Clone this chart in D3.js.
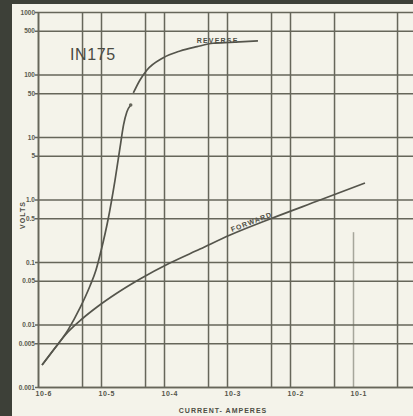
<!DOCTYPE html>
<html>
<head>
<meta charset="utf-8">
<script src="https://cdn.jsdelivr.net/npm/d3@7"></script>
<style>
  html, body { margin: 0; padding: 0; background: #3d4038; }
  svg { display: block; }
  text { font-family: "Liberation Sans", Arial, sans-serif; fill: #4a4a40; }
</style>
</head>
<body>
<svg id="chart" width="413" height="416"></svg>
<script>
// ---- data ----
const yTickValues = [1000, 500, 100, 50, 10, 5, 1, 0.5, 0.1, 0.05, 0.01, 0.005, 0.001];
const yTickLabels = ["1000", "500", "100", "50", "10", "5", "1.0", "0.5", "0.1", "0.05", "0.01", "0.005", "0.001"];
const xDecades = [1e-6, 1e-5, 1e-4, 1e-3, 1e-2, 1e-1];
const xTickLabels = ["10-6", "10-5", "10-4", "10-3", "10-2", "10-1"];
const xMinor = [5e-6, 5e-5, 5e-4, 5e-3, 5e-2, 5e-1];

// forward characteristic (amperes, volts)
const forwardCurrent = [1.16e-6, 1.86e-6, 2.99e-6, 4.99e-6, 8.65e-6, 1.8e-5, 4.16e-5, 1.24e-4, 3.73e-4, 1.12e-3, 4.82e-3, 0.030, 0.155];
const forwardVolts   = [0.00225, 0.00421, 0.00759, 0.01225, 0.01905, 0.0319, 0.0535, 0.0964, 0.161, 0.270, 0.488, 0.98, 1.84];

// reverse characteristic (amperes, volts); null = break in the drawn line
const reverseCurrent = [1.16e-6, 1.86e-6, 3.0e-6, 4.64e-6, 6.68e-6, 8.33e-6, 1.0e-5, 1.29e-5, 1.67e-5, 2.0e-5, 2.28e-5, 2.57e-5, 2.96e-5,
                        3.1e-5,
                        3.26e-5, 4.16e-5, 5.37e-5, 9.6e-5, 1.8e-4, 3.34e-4, 6.0e-4, 1.12e-3, 3.1e-3];
const reverseVolts   = [0.00225, 0.00421, 0.0082, 0.01837, 0.0413, 0.0745, 0.150, 0.470, 2.05, 6.67, 15.6, 25.1, 32.5,
                        null,
                        50.6, 81.7, 118, 184, 238, 279, 316, 327, 344];

const title = "IN175";
const xTitle = "CURRENT- AMPERES";
const yTitle = "VOLTS";

// ---- drawing ----
const svg = d3.select("#chart");
const W = 413, H = 416;

// paper
svg.append("rect").attr("x", 12).attr("y", 4).attr("width", W - 12).attr("height", H - 4).attr("fill", "#f4f3ea");

const x = d3.scaleLog().domain([1e-6, 1]).range([38, 416]);
const y = d3.scaleLog().domain([1e-3, 1e3]).range([387, 12]);
const [x0, x1] = x.range();
const [yb, yt] = y.range();

const gridColor = "#66665a";

// horizontal grid + y labels
const yAxis = d3.axisLeft(y)
  .tickValues(yTickValues)
  .tickFormat((d, i) => yTickLabels[i])
  .tickSizeInner(-(x1 - x0))
  .tickSizeOuter(0)
  .tickPadding(3);
const gy = svg.append("g").attr("transform", `translate(${x0},0)`).call(yAxis);
gy.select(".domain").attr("stroke", gridColor).attr("stroke-width", 1.6);
gy.selectAll(".tick line").attr("stroke", gridColor).attr("stroke-width", 1.5).attr("x2", x1 - x0).attr("x1", -3);
gy.selectAll(".tick text").attr("font-size", 6.5).attr("font-weight", "bold").style("fill", "#5a5a4e")
  .attr("font-family", "Liberation Sans, Arial, sans-serif");

// vertical grid + x labels
const xAllTicks = xDecades.concat(xMinor.filter(v => v < 1));
const xAxis = d3.axisBottom(x)
  .tickValues(xAllTicks)
  .tickFormat(d => { const i = xDecades.indexOf(d); return i >= 0 ? xTickLabels[i] : ""; })
  .tickSizeInner(-(yb - yt))
  .tickSizeOuter(0)
  .tickPadding(4);
const gx = svg.append("g").attr("transform", `translate(0,${yb})`).call(xAxis);
gx.select(".domain").attr("stroke", gridColor).attr("stroke-width", 1.6);
gx.selectAll(".tick line").attr("stroke", gridColor).attr("stroke-width", 1.5);
// the 10^-1 rule is faded out in the upper part of the sheet
gx.selectAll(".tick").filter(d => d === 1e-1).select("line")
  .attr("y2", y(0.3) - yb).attr("stroke-opacity", 0.55);
gx.selectAll(".tick text").attr("font-size", 7).attr("font-weight", "bold").style("fill", "#55554a")
  .attr("text-anchor", "start").attr("dx", -3).attr("letter-spacing", 0.6)
  .attr("font-family", "Liberation Sans, Arial, sans-serif");

// curves
const line = d3.line()
  .defined(d => d[1] != null)
  .x(d => x(d[0])).y(d => y(d[1]))
  .curve(d3.curveMonotoneX);

const forward = forwardCurrent.map((c, i) => [c, forwardVolts[i]]);
const reverse = reverseCurrent.map((c, i) => [c, reverseVolts[i]]);

svg.append("path").datum(forward).attr("d", line)
  .attr("fill", "none").attr("stroke", "#55554c").attr("stroke-width", 1.7);
svg.append("path").datum(reverse).attr("d", line)
  .attr("fill", "none").attr("stroke", "#55554c").attr("stroke-width", 1.7);

// knee dot at end of lower reverse segment
const kneeIdx = reverseVolts.indexOf(null) - 1;
svg.append("circle").attr("cx", x(reverseCurrent[kneeIdx])).attr("cy", y(reverseVolts[kneeIdx]))
  .attr("r", 1.8).attr("fill", "#66665c");

// curve labels
svg.append("text").attr("x", x(3.3e-4)).attr("y", y(300) - 1.5)
  .attr("font-size", 7).attr("font-weight", "bold").attr("letter-spacing", 1.2)
  .style("fill", "#4e4e44").text("REVERSE");

const fx = x(1.2e-3), fy = y(0.28) - 2;
svg.append("text").attr("transform", `translate(${fx},${fy}) rotate(-21)`)
  .attr("font-size", 7).attr("font-weight", "bold").attr("letter-spacing", 1.1)
  .style("fill", "#4e4e44").text("FORWARD");

// title
svg.append("text").attr("x", 70).attr("y", 59.5)
  .attr("font-size", 16).attr("letter-spacing", 0.6)
  .style("fill", "#4a4a42").text(title);

// axis titles
svg.append("text").attr("x", 223).attr("y", 413).attr("text-anchor", "middle")
  .attr("font-size", 7).attr("font-weight", "bold").attr("letter-spacing", 1)
  .style("fill", "#4e4e44").text(xTitle);

svg.append("text").attr("transform", "translate(25,215) rotate(-90)").attr("text-anchor", "middle")
  .attr("font-size", 7).attr("font-weight", "bold").attr("letter-spacing", 1)
  .style("fill", "#4e4e44").text(yTitle);
</script>
</body>
</html>
